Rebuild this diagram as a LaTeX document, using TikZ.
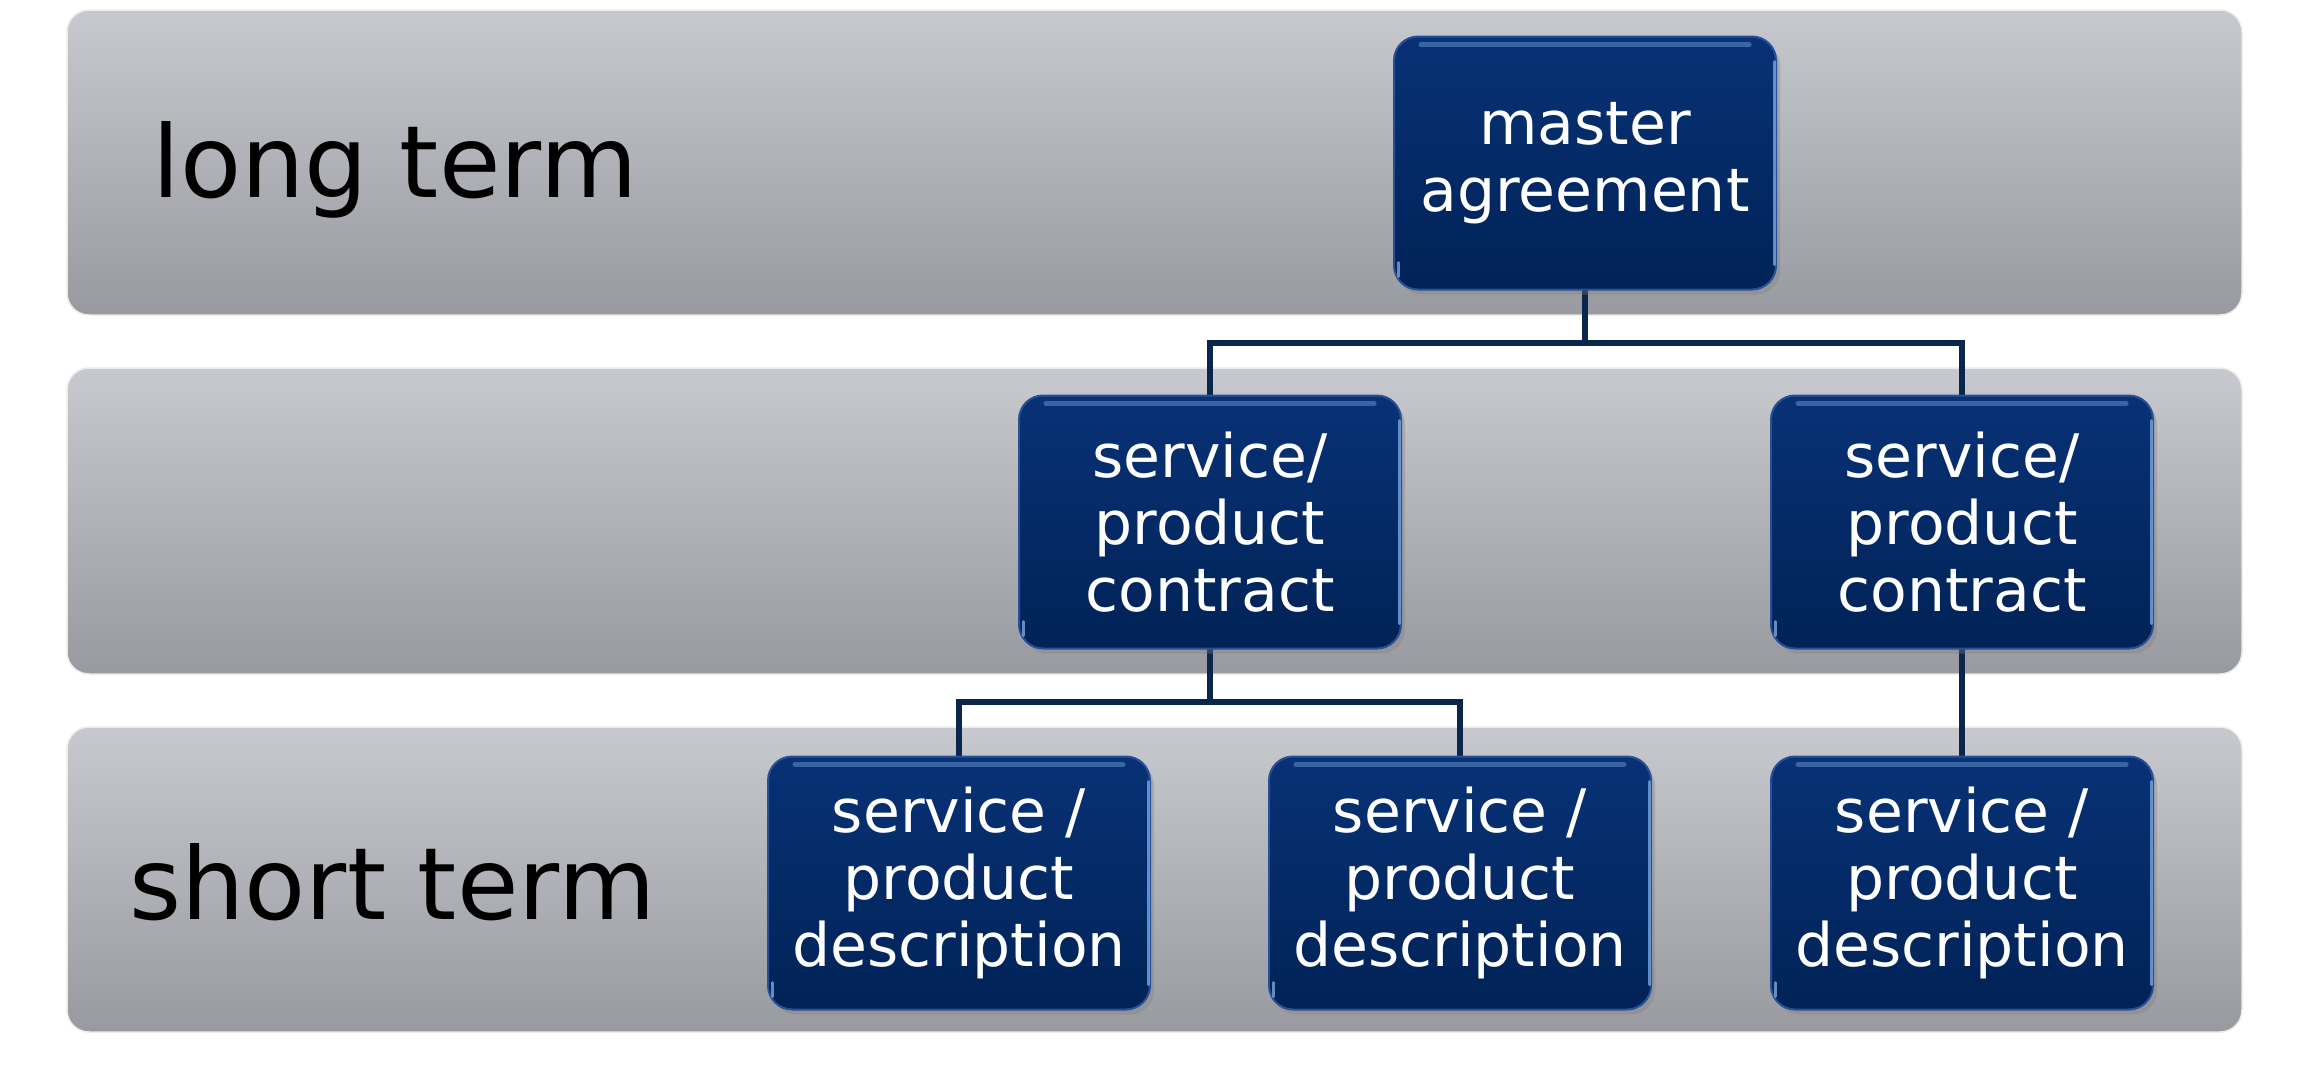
\documentclass[tikz,border=0pt]{standalone}
\usepackage{fontspec}
\setmainfont{DejaVu Sans}
\usetikzlibrary{shadows}
\definecolor{bandtop}{RGB}{199,201,207}
\definecolor{bandbot}{RGB}{153,154,159}
\definecolor{boxtop}{RGB}{8,50,118}
\definecolor{boxbot}{RGB}{0,34,86}
\definecolor{boxedge}{RGB}{40,80,150}
\definecolor{boxglow}{RGB}{120,165,225}
\definecolor{linkcol}{RGB}{10,38,76}
\tikzset{
  band/.style={rounded corners=22pt, top color=bandtop, bottom color=bandbot, draw=white!85!gray, line width=1.5pt},
  docbox/.style={rounded corners=24pt, minimum width=382pt, minimum height=253pt, top color=boxtop, bottom color=boxbot,
     draw=boxedge, line width=2pt, text=white, align=center, inner sep=0pt,
     font=\fontsize{60}{67}\selectfont,
     drop shadow={opacity=0.35, shadow xshift=4pt, shadow yshift=-5pt}},
  glow/.style={draw=boxglow, line width=3pt, line cap=round, opacity=0.8},
  topglow/.style={draw=boxglow, line width=5pt, line cap=round, opacity=0.45},
  bandlabel/.style={anchor=west, text=black, font=\fontsize{100}{120}\selectfont, inner sep=0pt},
  link/.style={draw=linkcol, line width=6.5pt}
}
\begin{document}
\begin{tikzpicture}[x=1pt,y=-1pt]
\useasboundingbox (0,0) rectangle (2298,1072);
\fill[white] (0,0) rectangle (2298,1072);
% bands
\path[band] (67,10) rectangle (2242,315);
\path[band] (67,368) rectangle (2242,674);
\path[band] (67,727) rectangle (2242,1032);
\node[bandlabel] (lt) at (152,170) {long term};
\node[bandlabel] (st) at (129,882) {short term};
% junction coordinates
\coordinate (j1) at (1585,343);
\coordinate (j2) at (1210,702);
% connectors (drawn first, boxes on top)
\draw[link] (1585,280) -- (j1) -| (1210,420);
\draw[link] (j1) -| (1962,420);
\draw[link] (1210,640) -- (j2) -| (959,780);
\draw[link] (j2) -| (1460,780);
\draw[link] (1962,640) -- (1962,780);
% boxes
\node[docbox] (m) at (1585,163) {master\\agreement};
\node[docbox] (c1) at (1210,522) {service/\\product\\contract};
\node[docbox] (c2) at (1962,522) {service/\\product\\contract};
\node[docbox] (d1) at (959,883) {service /\\product\\description};
\node[docbox] (d2) at (1460,883) {service /\\product\\description};
\node[docbox] (d3) at (1962,883) {service /\\product\\description};
% glossy highlights
\foreach \n in {m,c1,c2,d1,d2,d3}{
  \draw[glow] ([xshift=-3pt,yshift=-26pt]\n.north east) -- ([xshift=-3pt,yshift=26pt]\n.south east);
  \draw[topglow] ([xshift=28pt,yshift=-9pt]\n.north west) -- ([xshift=-28pt,yshift=-9pt]\n.north east);
  \draw[glow] ([xshift=5pt,yshift=28pt]\n.south west) -- ([xshift=5pt,yshift=14pt]\n.south west);
}
\end{tikzpicture}
\end{document}
